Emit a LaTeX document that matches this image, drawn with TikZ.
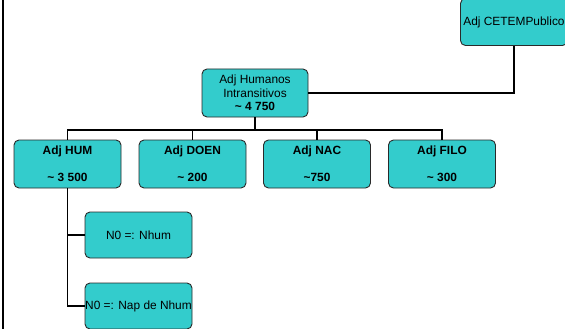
\documentclass[tikz,border=0pt]{standalone}
\usepackage{fontspec}
\setmainfont{Liberation Sans}
\definecolor{boxfill}{HTML}{33CCCC}
\definecolor{boxline}{HTML}{2A2A2A}
\tikzset{
  tbox/.style={draw=boxline, line width=0.9pt, fill=boxfill, rounded corners=5pt,
    minimum width=107pt, minimum height=47pt, inner sep=0pt, align=center,
    font=\fontsize{11.9pt}{13.4pt}\selectfont},
  conn/.style={draw=black, line width=1.5pt}
}
\begin{document}
\begin{tikzpicture}[x=1pt,y=-1pt]
\useasboundingbox (0,0) rectangle (565,329);
\fill[white] (0,0) rectangle (565,329);
\draw[line width=2pt] (3,-2) -- (3,331);

\node[tbox, minimum height=47pt] (cetem) at (514,22) {Adj CETEMPublico};
\node[tbox, minimum width=106pt, minimum height=48pt] (hi) at (255,93)
  {Adj Humanos\\Intransitivos\\\textbf{\textasciitilde{} 4 750}};

\node[tbox, minimum height=48pt] (hum) at (67.5,164) {\textbf{Adj HUM}\\[14pt]\textbf{\textasciitilde{} 3 500}};
\node[tbox, minimum height=48pt] (doen) at (192.5,164) {\textbf{Adj DOEN}\\[14pt]\textbf{\textasciitilde{} 200}};
\node[tbox, minimum height=48pt] (nac) at (317,164) {\textbf{Adj NAC}\\[14pt]\textbf{\textasciitilde750}};
\node[tbox, minimum height=48pt] (filo) at (442,164) {\textbf{Adj FILO}\\[14pt]\textbf{\textasciitilde{} 300}};

\node[tbox, minimum height=46pt] (nhum) at (138.5,235) {N0 =: Nhum};
\node[tbox, minimum height=46pt] (nap) at (138.5,306) {N0 =: Nap de Nhum};

\coordinate (bus) at (255,130);

\draw[conn] (cetem.south) |- (hi.east);
\draw[conn] (hi.south) -- (bus);
\draw[conn] (hum.north) |- (bus) -| (filo.north);
\draw[conn] (doen.north) -- (doen.north |- bus);
\draw[conn] (nac.north) -- (nac.north |- bus);
\draw[conn] (hum.south) |- (nap.west);
\draw[conn] (hum.south |- nhum.west) -- (nhum.west);
\end{tikzpicture}
\end{document}
